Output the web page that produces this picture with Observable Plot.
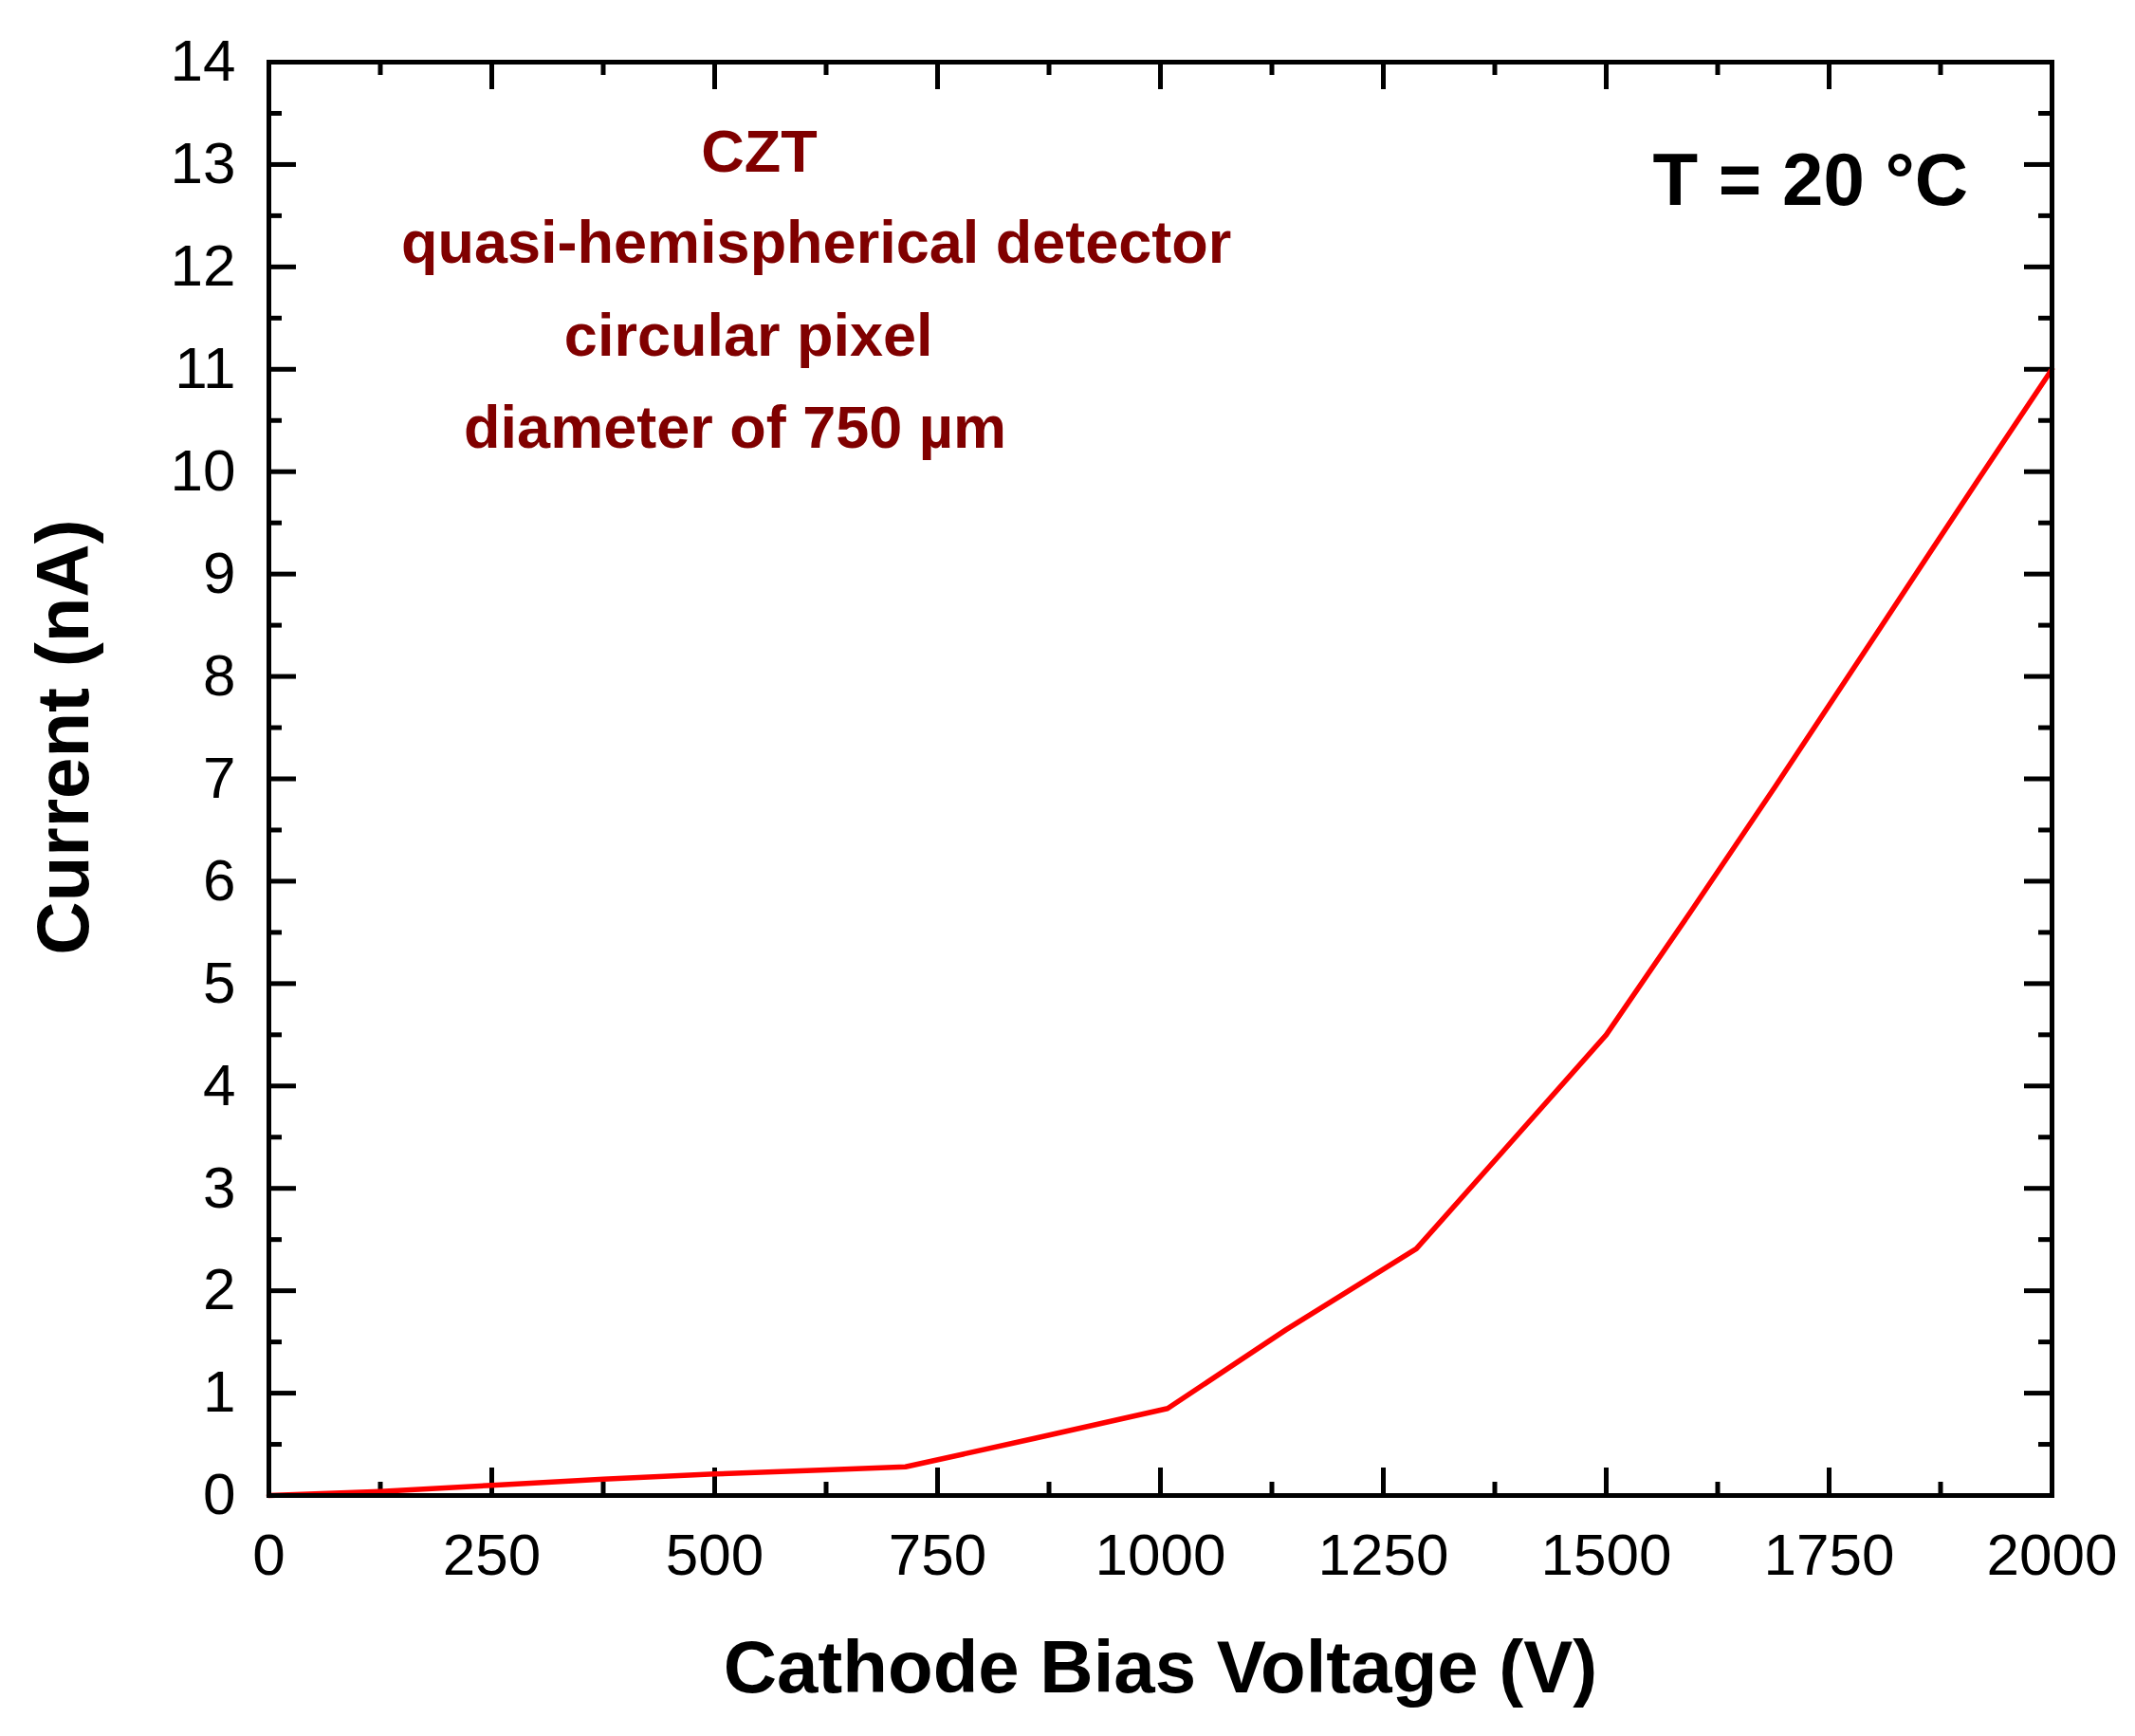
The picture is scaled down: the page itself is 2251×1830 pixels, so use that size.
<!DOCTYPE html>
<html>
<head>
<meta charset="utf-8">
<script src="https://cdn.jsdelivr.net/npm/d3@7"></script>
<script src="https://cdn.jsdelivr.net/npm/@observablehq/plot@0.6"></script>
<style>
  body { margin: 0; background: white; }
  #chart { font-family: "Liberation Sans", Arial, sans-serif; }
</style>
</head>
<body>
<div id="chart"></div>
<script>
// data
const voltage = [0, 125, 250, 375, 500, 625, 714, 860, 1008, 1141, 1287, 1385, 1500, 1593, 1690, 1804, 1914, 2000];
const current = [0, 0.04, 0.10, 0.16, 0.21, 0.25, 0.28, 0.56, 0.85, 1.62, 2.41, 3.37, 4.5, 5.68, 6.93, 8.43, 9.88, 11.0];

const xMajor = d3.range(0, 2001, 250);
const xMinor = d3.range(125, 2000, 250);
const yMajor = d3.range(0, 15, 1);
const yMinor = d3.range(0.5, 14, 1);

const noteLines = ["CZT", "quasi-hemispherical detector", "circular pixel", "diameter of 750 µm"];
const tempLabel = "T = 20 °C";
const xTitle = "Cathode Bias Voltage (V)";
const yTitle = "Current (nA)";

const data = voltage.map((v, i) => ({v, i: current[i]}));

const W = 2251, H = 1830;
const mL = 283, mR = 88, mT = 65, mB = 254;
const pw = W - mL - mR, ph = H - mT - mB;
const majLen = 29, minLen = 14;

// where the annotation lines sit (in data units)
const notePos = [
  {x: 550, y: 12.93},
  {x: 614, y: 12.04},
  {x: 538, y: 11.13},
  {x: 523, y: 10.23}
];
const notes = noteLines.map((t, k) => ({t, ...notePos[k]}));

const tickStyle = {stroke: "black", strokeWidth: 5};

const chart = Plot.plot({
  width: W,
  height: H,
  marginLeft: mL,
  marginRight: mR,
  marginTop: mT,
  marginBottom: mB,
  style: {background: "white", fontFamily: "'Liberation Sans', Arial, sans-serif", color: "black"},
  x: {domain: [0, 2000], axis: null},
  y: {domain: [0, 14], axis: null},
  marks: [
    // inward ticks on all four sides
    Plot.tickX(xMajor, {x: d => d, insetTop: ph - majLen, ...tickStyle}),
    Plot.tickX(xMinor, {x: d => d, insetTop: ph - minLen, ...tickStyle}),
    Plot.tickX(xMajor, {x: d => d, insetBottom: ph - majLen, ...tickStyle}),
    Plot.tickX(xMinor, {x: d => d, insetBottom: ph - minLen, ...tickStyle}),
    Plot.tickY(yMajor, {y: d => d, insetRight: pw - majLen, ...tickStyle}),
    Plot.tickY(yMinor, {y: d => d, insetRight: pw - minLen, ...tickStyle}),
    Plot.tickY(yMajor, {y: d => d, insetLeft: pw - majLen, ...tickStyle}),
    Plot.tickY(yMinor, {y: d => d, insetLeft: pw - minLen, ...tickStyle}),
    Plot.axisX({ticks: xMajor, tickSize: 0, tickPadding: 39, tickFormat: d3.format("d"), fontSize: 62, label: null}),
    Plot.axisY({ticks: yMajor, tickSize: 0, tickPadding: 35, tickFormat: d3.format("d"), fontSize: 62, label: null}),
    Plot.line(data, {x: "v", y: "i", stroke: "#ff0000", strokeWidth: 5.5}),
    Plot.frame({stroke: "black", strokeWidth: 5}),
    Plot.text(notes, {x: "x", y: "y", text: "t", fill: "#800000", fontSize: 63, fontWeight: "bold", lineAnchor: "bottom"}),
    Plot.text([tempLabel], {x: 1729, y: 12.61, text: d => d, fill: "black", fontSize: 78, fontWeight: "bold", lineAnchor: "bottom"}),
    Plot.text([xTitle], {frameAnchor: "bottom", dy: 207, text: d => d, fontSize: 78, fontWeight: "bold", lineAnchor: "bottom"}),
    Plot.text([yTitle], {frameAnchor: "left", rotate: -90, dx: -191, dy: -44, text: d => d, textAnchor: "middle", fontSize: 78, fontWeight: "bold", lineAnchor: "bottom"})
  ]
});

d3.select("#chart").append(() => chart);
</script>
</body>
</html>
